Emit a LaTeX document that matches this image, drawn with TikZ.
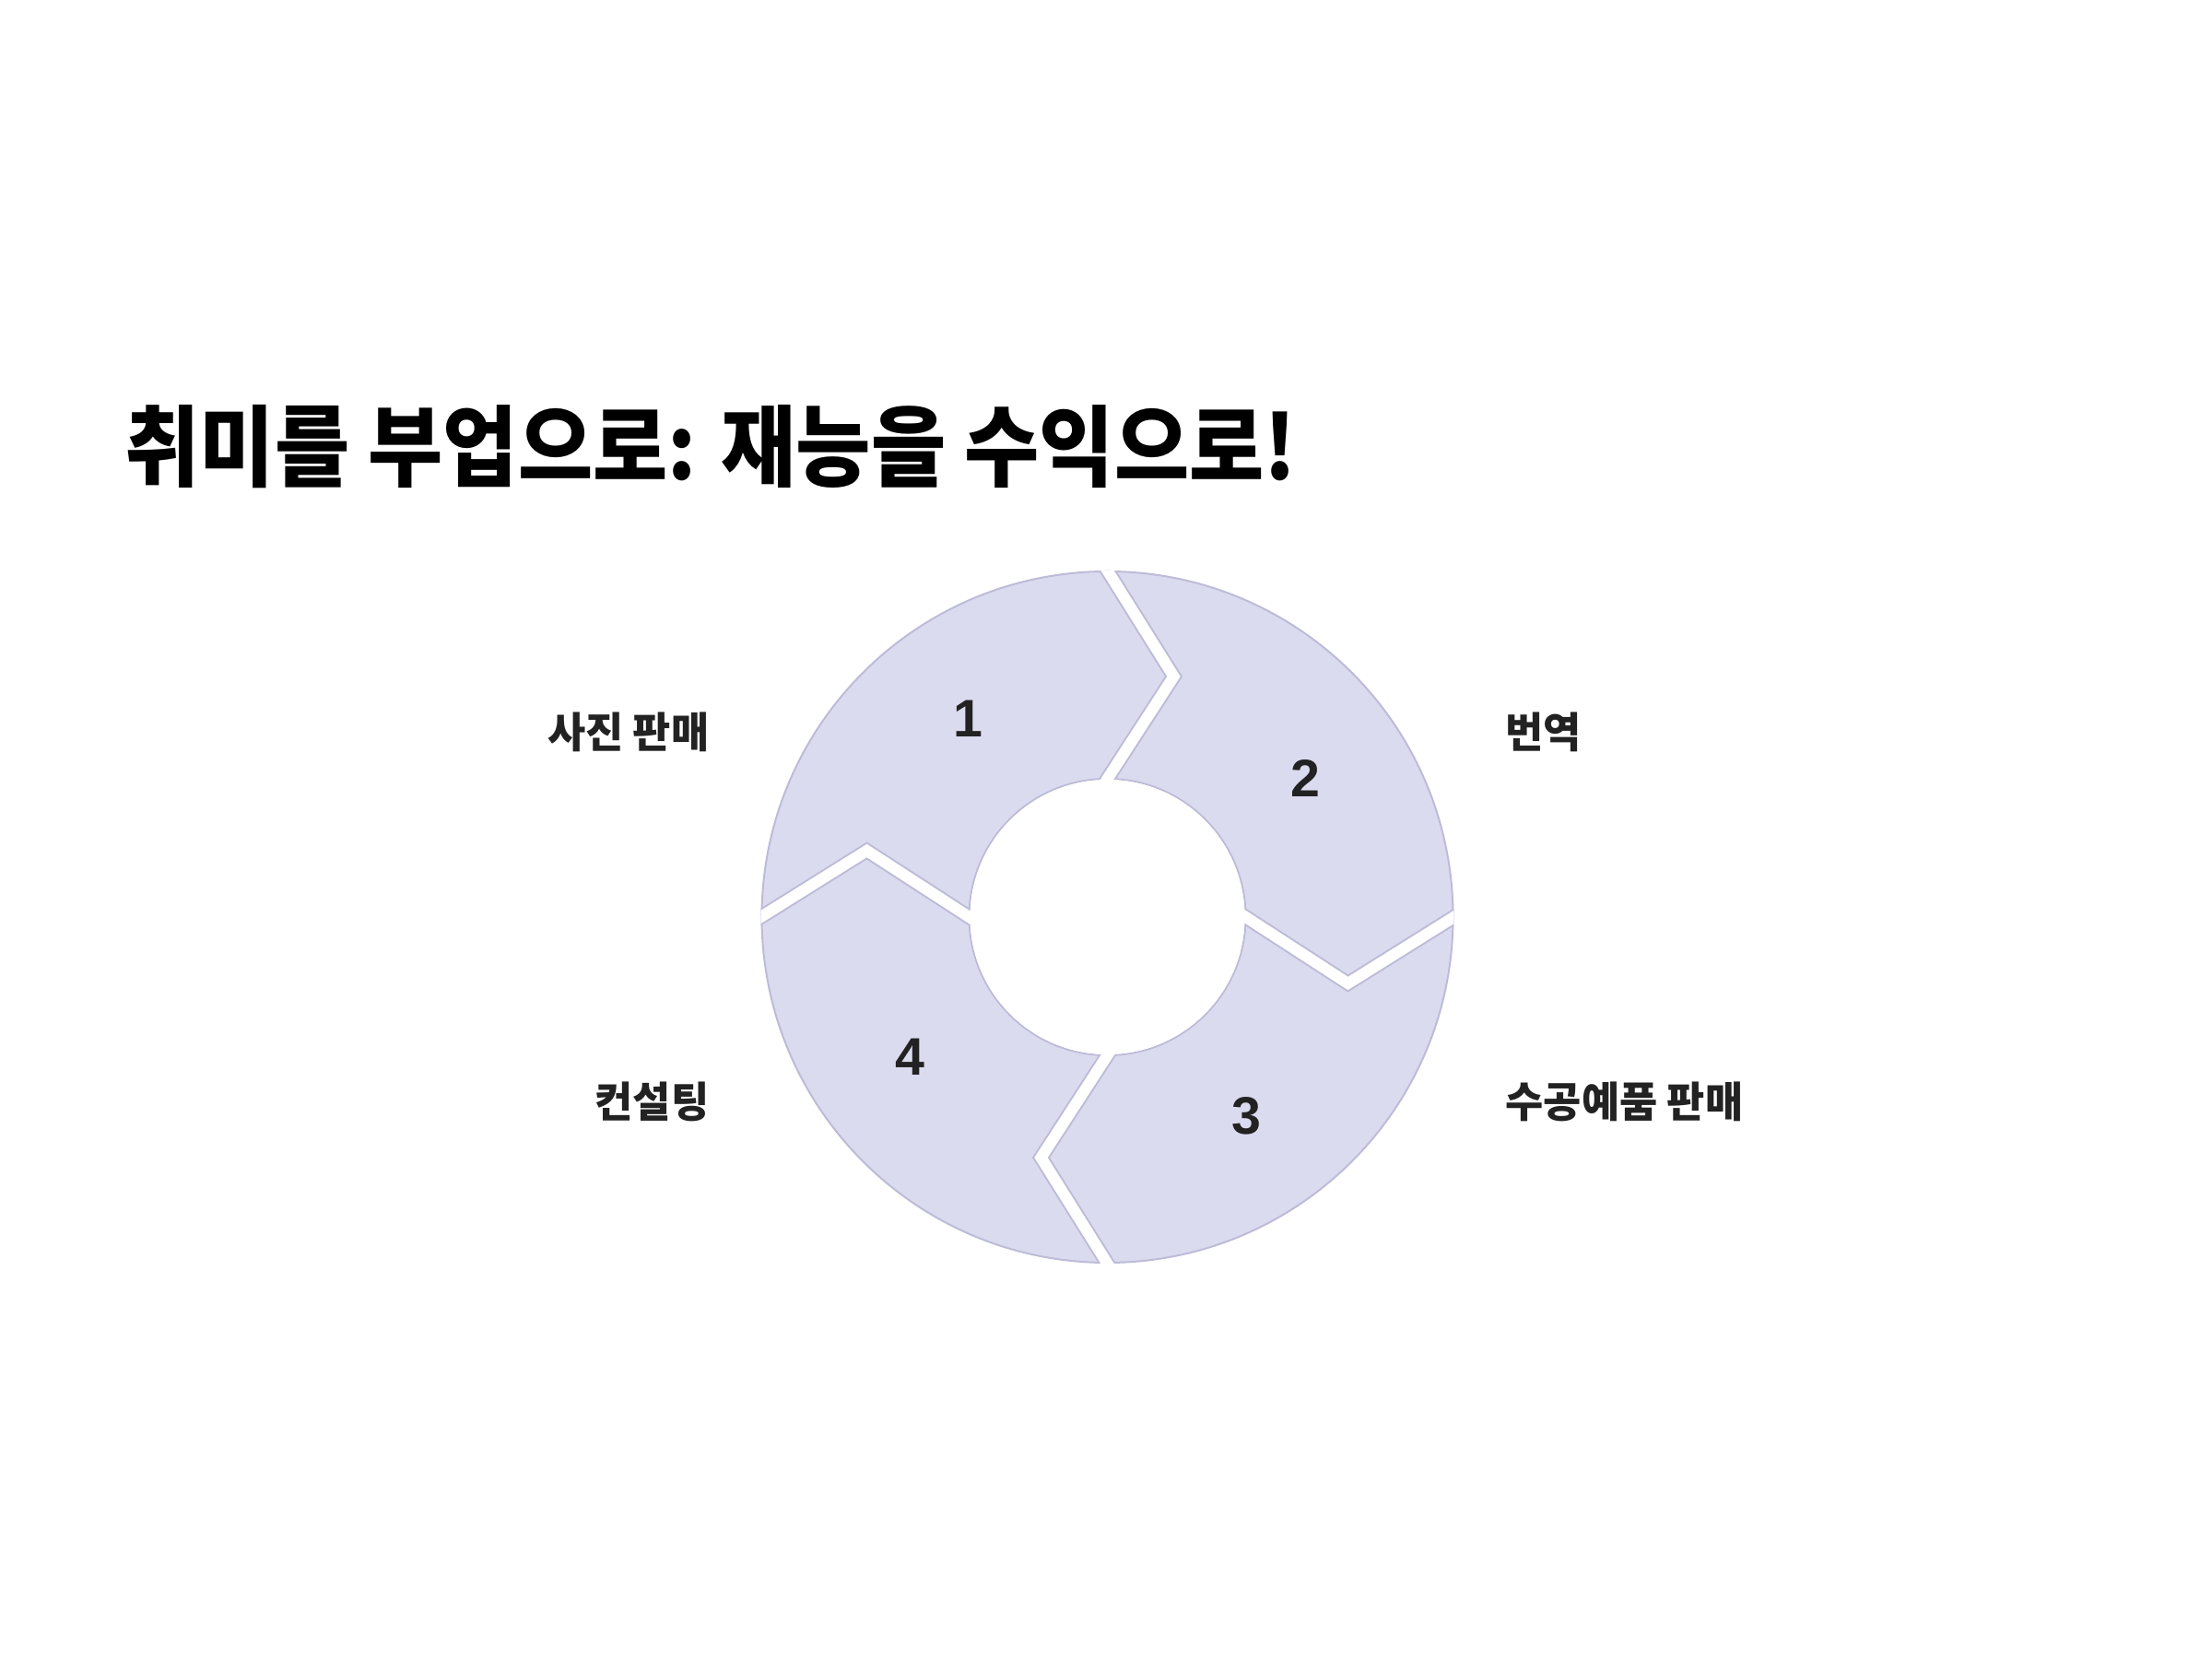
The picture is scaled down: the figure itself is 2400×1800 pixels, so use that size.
\documentclass[tikz,border=0pt]{standalone}
\usepackage{fontspec}
\newfontfamily\krtitle[FakeStretch=0.92]{Noto Sans CJK KR}
\newfontfamily\krlabel[FakeStretch=0.98]{Noto Sans CJK KR}
\newfontfamily\numfont{Liberation Sans}
\definecolor{segfill}{RGB}{219,219,240}
\definecolor{segborder}{RGB}{188,188,216}
\definecolor{textdark}{RGB}{34,34,34}
\tikzset{
  titletext/.style={inner sep=0pt, text=black, font=\krtitle\bfseries\fontsize{27.3pt}{30pt}\selectfont},
  labeltext/.style={inner sep=0pt, text=textdark, font=\krlabel\bfseries\fontsize{13pt}{15pt}\selectfont},
  numtext/.style={inner sep=0pt, text=textdark, font=\numfont\bfseries\fontsize{16.3pt}{18pt}\selectfont},
  segline/.style={draw=segborder, line width=0.57pt},
  gapedge/.style={draw=segborder, line width=4.6pt, line join=miter},
  gapfill/.style={draw=white, line width=3.45pt, line join=miter}
}
\begin{document}
\begin{tikzpicture}[x=0.01cm,y=0.01cm]
\useasboundingbox (0,0) rectangle (2400,1800);
\fill[white] (0,0) rectangle (2400,1800);
\node[titletext, anchor=west] (title) at (135,1315) {취미를 부업으로: 재능을 수익으로!};
\begin{scope}[shift={(1201.5,805)}]
  \fill[segfill, even odd rule] (0,0) circle[radius=375] (0,0) circle[radius=150];
  \draw[segline] (0,0) circle[radius=375];
  \draw[segline] (0,0) circle[radius=150];
  \begin{scope}
    \clip (0,0) circle[radius=376];
    \foreach \a in {0,-90,-180,-270} {
      \draw[rotate=\a, gapedge] (-14.4,399) -- (72,261) -- (-14.4,127.8);
      \draw[rotate=\a, gapfill] (-14.4,399) -- (72,261) -- (-14.4,127.8);
    }
  \end{scope}
  \fill[white] (0,0) circle[radius=149];
\end{scope}
\node[numtext] (n1) at (1050,1020) {1};
\node[numtext] (n2) at (1416,955) {2};
\node[numtext] (n3) at (1352,589) {3};
\node[numtext] (n4) at (987,653) {4};
\node[labeltext, anchor=east] (l1) at (770,1006) {사진 판매};
\node[labeltext, anchor=west] (l2) at (1633,1006) {번역};
\node[labeltext, anchor=west] (l3) at (1633,605) {수공예품 판매};
\node[labeltext, anchor=east] (l4) at (770,605) {컨설팅};
\end{tikzpicture}
\end{document}
